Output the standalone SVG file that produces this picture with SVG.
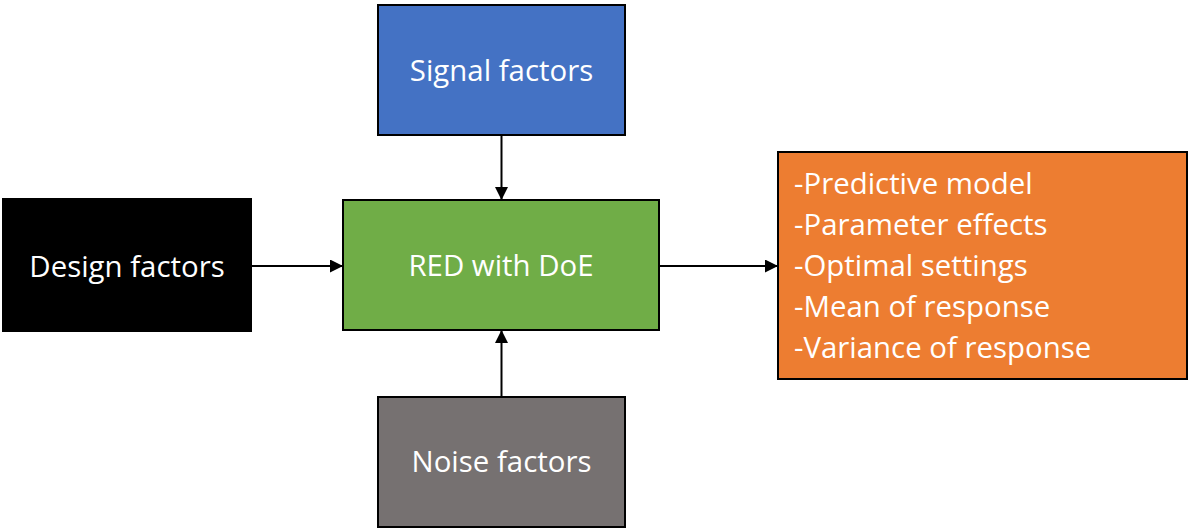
<svg xmlns="http://www.w3.org/2000/svg" width="1189" height="528" viewBox="0 0 1189 528">
<style>
.box{stroke:#000;stroke-width:2}
.t{font-family:"Open Sans","Liberation Sans",sans-serif;font-size:29.4px;fill:#fff}
.c{text-anchor:middle}
.conn line{stroke:#000;stroke-width:2}
</style>
<defs>
<marker id="ah" viewBox="0 0 10 10" refX="10" refY="5" markerWidth="6.5" markerHeight="6.5" markerUnits="strokeWidth" orient="auto">
<path d="M0,0 L10,5 L0,10 z" fill="#000"/>
</marker>
</defs>
<rect width="1189" height="528" fill="#fff"/>
<g id="signal">
<rect class="box" x="378" y="5" width="247" height="130" fill="#4472C4"/>
<text class="t c" x="501.5" y="81">Signal factors</text>
</g>
<g id="design">
<rect class="box" x="3" y="199" width="248" height="132" fill="#000"/>
<text class="t c" x="127" y="277">Design factors</text>
</g>
<g id="red">
<rect class="box" x="343" y="200" width="316" height="130" fill="#70AD47"/>
<text class="t c" x="501" y="276">RED with DoE</text>
</g>
<g id="noise">
<rect class="box" x="378" y="397" width="247" height="130" fill="#767171"/>
<text class="t c" x="501.5" y="472">Noise factors</text>
</g>
<g id="outputs">
<rect class="box" x="778" y="152" width="409" height="227" fill="#ED7D31"/>
<text class="t" x="794" y="194">-Predictive model</text>
<text class="t" x="794" y="235">-Parameter effects</text>
<text class="t" x="794" y="276">-Optimal settings</text>
<text class="t" x="794" y="317">-Mean of response</text>
<text class="t" x="794" y="358">-Variance of response</text>
</g>
<g id="connectors" class="conn">
<line x1="501.5" y1="135" x2="501.5" y2="200" marker-end="url(#ah)"/>
<line x1="251" y1="266" x2="343" y2="266" marker-end="url(#ah)"/>
<line x1="501.5" y1="397" x2="501.5" y2="330" marker-end="url(#ah)"/>
<line x1="659" y1="266" x2="778" y2="266" marker-end="url(#ah)"/>
</g>
</svg>
